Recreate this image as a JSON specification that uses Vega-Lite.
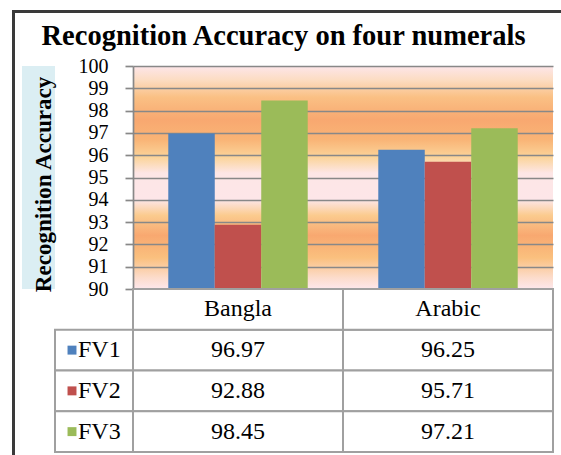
{
  "$schema": "https://vega.github.io/schema/vega-lite/v6.json",
  "padding": {"left": 12, "top": 10, "right": 0, "bottom": 0},
  "background": "white",
  "bounds": "flush",
  "spacing": 0,
  "config": {
    "view": {"stroke": null},
    "font": "Liberation Serif"
  },
  "datasets": {
    "acc": [
      {"category": "Bangla", "series": "FV1", "value": 96.97},
      {"category": "Bangla", "series": "FV2", "value": 92.88},
      {"category": "Bangla", "series": "FV3", "value": 98.45},
      {"category": "Arabic", "series": "FV1", "value": 96.25},
      {"category": "Arabic", "series": "FV2", "value": 95.71},
      {"category": "Arabic", "series": "FV3", "value": 97.21}
    ]
  },
  "vconcat": [
    {
      "width": 549, "height": 3,
      "view": {"fill": "#3A3A3A", "stroke": null},
      "data": {"values": []},
      "mark": "rect",
      "encoding": {}
    },
    {
      "hconcat": [
        {
          "width": 3, "height": 442,
          "view": {"fill": "#3A3A3A", "stroke": null},
          "data": {"values": []},
          "mark": "rect",
          "encoding": {}
        },
        {
          "vconcat": [
            {
              "width": 523, "height": 53,
              "data": {"values": [{}]},
              "mark": {"type": "text", "font": "Liberation Serif", "fontSize": 28.5, "fontWeight": "bold", "color": "#000000", "baseline": "alphabetic", "dy": 5},
              "encoding": {"text": {"value": "Recognition Accuracy  on four numerals"}}
            },
            {
              "concat": [
                {
                  "width": 33, "height": 223,
                  "view": {"fill": "#DBEEF3", "stroke": null},
                  "data": {"values": []},
                  "mark": "rect",
                  "encoding": {}
                },
                {
                  "width": 78, "height": 223,
                  "data": {"values": []},
                  "mark": "rect",
                  "encoding": {}
                },
                {
                  "width": 420, "height": 223,
                  "view": {
                    "stroke": null,
                    "fill": {
                      "gradient": "linear",
                      "x1": 0, "y1": 0, "x2": 0, "y2": 1,
                      "stops": [
                        {"offset": 0, "color": "#FDE6EA"},
                        {"offset": 0.06, "color": "#FCDDC4"},
                        {"offset": 0.14, "color": "#FAC084"},
                        {"offset": 0.24, "color": "#F8A870"},
                        {"offset": 0.33, "color": "#F9B476"},
                        {"offset": 0.41, "color": "#FBD49A"},
                        {"offset": 0.48, "color": "#FDE6E6"},
                        {"offset": 0.6, "color": "#FDE6E8"},
                        {"offset": 0.67, "color": "#FBCB8E"},
                        {"offset": 0.76, "color": "#F8A870"},
                        {"offset": 0.86, "color": "#FAC07E"},
                        {"offset": 0.95, "color": "#FCDCCC"},
                        {"offset": 1, "color": "#FDE7EC"}
                      ]
                    }
                  },
                  "data": {"name": "acc"},
                  "mark": {"type": "bar"},
                  "encoding": {
                    "x": {"field": "category", "type": "nominal", "sort": ["Bangla", "Arabic"], "scale": {"paddingInner": 0.336, "paddingOuter": 0.168}, "axis": null},
                    "xOffset": {"field": "series", "type": "nominal", "sort": ["FV1", "FV2", "FV3"], "scale": {"paddingInner": 0, "paddingOuter": 0}},
                    "y": {
                      "field": "value", "type": "quantitative",
                      "scale": {"domain": [90, 100], "zero": false, "nice": false},
                      "axis": {
                        "title": "Recognition Accuracy",
                        "values": [90, 91, 92, 93, 94, 95, 96, 97, 98, 99, 100],
                        "grid": true, "gridColor": "#888888", "gridWidth": 1.7,
                        "domainColor": "#888888", "domainWidth": 1.7,
                        "tickColor": "#888888", "tickWidth": 1.7, "tickSize": 8,
                        "labelFont": "Liberation Serif", "labelFontSize": 20, "labelColor": "#000000",
                        "labelPadding": 17, "labelOverlap": false, "labelFlush": false,
                        "titleFont": "Liberation Serif", "titleFontSize": 23, "titleFontWeight": "bold",
                        "titleColor": "#000000", "titlePadding": 23, "titleY": 118
                      }
                    },
                    "y2": {"datum": 90},
                    "color": {"field": "series", "type": "nominal", "scale": {"domain": ["FV1", "FV2", "FV3"], "range": ["#4F81BD", "#C0504D", "#9BBB59"]}, "legend": null}
                  }
                },
                {
                  "width": 33, "height": 163,
                  "data": {"values": []},
                  "mark": "rect",
                  "encoding": {}
                },
                {
                  "width": 78, "height": 163,
                  "data": {"name": "acc"},
                  "transform": [{"aggregate": [{"op": "count", "as": "n"}], "groupby": ["series"]}],
                  "encoding": {
                    "y": {"field": "series", "type": "nominal", "scale": {"domain": ["header", "FV1", "FV2", "FV3"], "padding": 0}, "axis": null}
                  },
                  "layer": [
                    {"mark": {"type": "rect", "fill": "white", "stroke": "#A0A0A0", "strokeWidth": 2}},
                    {
                      "mark": {"type": "point", "shape": "square", "filled": true, "size": 80, "opacity": 1, "xOffset": -22},
                      "encoding": {"color": {"field": "series", "type": "nominal", "scale": {"domain": ["FV1", "FV2", "FV3"], "range": ["#4F81BD", "#C0504D", "#9BBB59"]}, "legend": null}}
                    },
                    {
                      "mark": {"type": "text", "align": "left", "dx": -16, "fontSize": 24, "font": "Liberation Serif", "color": "#000000"},
                      "encoding": {"text": {"field": "series"}}
                    }
                  ]
                },
                {
                  "width": 420, "height": 163,
                  "data": {"name": "acc"},
                  "layer": [
                    {
                      "mark": {"type": "rect", "fill": "white", "stroke": "#A0A0A0", "strokeWidth": 2},
                      "encoding": {
                        "x": {"field": "category", "type": "nominal", "sort": ["Bangla", "Arabic"], "scale": {"padding": 0}, "axis": null},
                        "y": {"field": "series", "type": "nominal", "scale": {"domain": ["header", "FV1", "FV2", "FV3"], "padding": 0}, "axis": null}
                      }
                    },
                    {
                      "transform": [{"aggregate": [{"op": "count", "as": "n"}], "groupby": ["category"]}],
                      "mark": {"type": "rect", "fill": "white", "stroke": "#A0A0A0", "strokeWidth": 2},
                      "encoding": {
                        "x": {"field": "category", "type": "nominal", "sort": ["Bangla", "Arabic"], "axis": null},
                        "y": {"datum": "header", "type": "nominal", "axis": null}
                      }
                    },
                    {
                      "mark": {"type": "text", "fontSize": 24, "font": "Liberation Serif", "color": "#000000"},
                      "encoding": {
                        "x": {"field": "category", "type": "nominal", "sort": ["Bangla", "Arabic"], "axis": null},
                        "y": {"field": "series", "type": "nominal", "axis": null},
                        "text": {"field": "value", "type": "quantitative", "format": ".2f"}
                      }
                    },
                    {
                      "transform": [{"aggregate": [{"op": "count", "as": "n"}], "groupby": ["category"]}],
                      "mark": {"type": "text", "fontSize": 24, "font": "Liberation Serif", "color": "#000000"},
                      "encoding": {
                        "x": {"field": "category", "type": "nominal", "sort": ["Bangla", "Arabic"], "axis": null},
                        "y": {"datum": "header", "type": "nominal", "axis": null},
                        "text": {"field": "category"}
                      }
                    }
                  ]
                }
              ],
              "columns": 3,
              "spacing": 0,
              "bounds": "flush",
              "resolve": {"scale": {"x": "independent", "y": "independent"}}
            }
          ],
          "spacing": 0,
          "bounds": "flush"
        }
      ],
      "spacing": 7,
      "bounds": "flush"
    }
  ]
}
